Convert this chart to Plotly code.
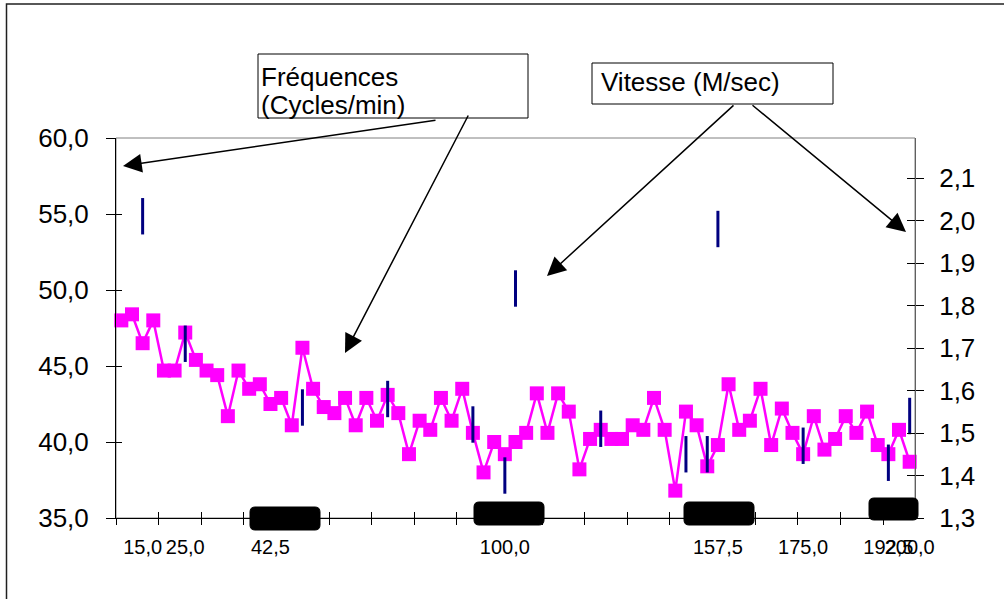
import plotly.graph_objects as go

# ---------------- data ----------------
n_categories = 75
x_label_pos = [2, 6, 14, 36, 56, 64, 72, 74]
x_labels = ["15,0", "25,0", "42,5", "100,0", "157,5", "175,0", "192,5", "200,0"]

freq = [48.0, 48.4, 46.5, 48.0, 44.7, 44.7, 47.2, 45.4, 44.7, 44.4,
        41.7, 44.7, 43.5, 43.8, 42.5, 42.9, 41.1, 46.2, 43.5, 42.3,
        41.9, 42.9, 41.1, 42.9, 41.4, 43.1, 41.9, 39.2, 41.4, 40.8,
        42.9, 41.4, 43.5, 40.6, 38.0, 40.0, 39.2, 40.0, 40.6, 43.2,
        40.6, 43.2, 42.0, 38.2, 40.2, 40.8, 40.2, 40.2, 41.1, 40.8,
        42.9, 40.8, 36.8, 42.0, 41.1, 38.4, 39.8, 43.8, 40.8, 41.4,
        43.5, 39.8, 42.2, 40.6, 39.2, 41.7, 39.5, 40.2, 41.7, 40.6,
        42.0, 39.8, 39.2, 40.8, 38.7]

speed_idx = [2, 6, 17, 25, 33, 36, 37, 45, 53, 55, 56, 64, 72, 74]
speed = [2.01, 1.71, 1.56, 1.58, 1.52, 1.40, 1.84, 1.51, 1.45, 1.45, 1.98, 1.47, 1.43, 1.54]

left_ticks = [35, 40, 45, 50, 55, 60]
right_ticks = [1.3, 1.4, 1.5, 1.6, 1.7, 1.8, 1.9, 2.0, 2.1]
tick_every = 4

FONT = "Liberation Sans, Arial, sans-serif"

# ---------------- layout geometry ----------------
W, H = 1004, 599
L, R, T, B = 116, 915, 138, 518


def px(p):
    return (p - L) / (R - L)


def py(p):
    return (B - p) / (B - T)


x_idx = list(range(n_categories))
xr = [-0.5, n_categories - 0.5]
yr_left = [left_ticks[0], left_ticks[-1]]
yr_right = [1.3, 1.3 + (B - T) / 425.0]
boundaries = [-0.5 + k * tick_every for k in range(n_categories // tick_every + 1)]

fig = go.Figure()
fig.add_trace(go.Scatter(
    x=x_idx, y=freq, mode="lines+markers",
    line=dict(color="#FF00FF", width=2.5),
    marker=dict(symbol="square", size=14, color="#FF00FF"),
    cliponaxis=False, showlegend=False, hoverinfo="skip"))
fig.add_trace(go.Scatter(
    x=speed_idx, y=speed, mode="markers", yaxis="y2",
    marker=dict(symbol="line-ns", size=26, color="#000080",
                line=dict(color="#000080", width=3)),
    showlegend=False, hoverinfo="skip"))
# invisible helper traces so that the overlay (tick) axes get drawn
fig.add_trace(go.Scatter(x=[0], y=[40], xaxis="x3", yaxis="y3", mode="markers",
                         marker=dict(opacity=0), showlegend=False, hoverinfo="skip"))
fig.add_trace(go.Scatter(x=[0], y=[1.5], xaxis="x4", yaxis="y4", mode="markers",
                         marker=dict(opacity=0), showlegend=False, hoverinfo="skip"))

axis_common = dict(showgrid=False, zeroline=False, fixedrange=True)

fig.update_layout(
    width=W, height=H, autosize=False,
    margin=dict(l=L, r=W - R, t=T, b=H - B, pad=0),
    paper_bgcolor="white", plot_bgcolor="white",
    separators=", ",
    font=dict(family=FONT, color="black"),
    xaxis=dict(range=xr, tickmode="array", tickvals=boundaries,
               ticks="outside", ticklen=6, tickcolor="black", tickwidth=1,
               showticklabels=False, showline=True, linecolor="black",
               linewidth=1, **axis_common),
    xaxis3=dict(range=xr, overlaying="x", anchor="y3", side="bottom",
                tickmode="array", tickvals=boundaries, ticks="inside",
                ticklen=6, tickcolor="black", showticklabels=False,
                showline=False, **axis_common),
    xaxis4=dict(range=xr, overlaying="x", anchor="y4", side="bottom",
                tickmode="array", tickvals=x_label_pos, ticktext=x_labels,
                ticks="", tickangle=0, showline=False,
                tickfont=dict(family=FONT, size=20, color="black"),
                ticklabelstandoff=15, **axis_common),
    yaxis=dict(range=yr_left, tickmode="array",
               tickvals=left_ticks, tickformat=".1f", ticks="outside",
               ticklen=9, tickcolor="black", showline=True,
               linecolor="black", linewidth=1,
               tickfont=dict(family=FONT, size=26, color="black"),
               ticklabelstandoff=12, **axis_common),
    yaxis3=dict(range=yr_left, overlaying="y",
                anchor="x3", side="left", tickmode="array",
                tickvals=left_ticks, ticks="inside", ticklen=6,
                tickcolor="black", showticklabels=False, showline=False,
                **axis_common),
    yaxis2=dict(range=yr_right, overlaying="y",
                anchor="x", side="right", tickmode="array",
                tickvals=right_ticks, tickformat=".1f", ticks="outside",
                ticklen=8, tickcolor="black", showline=True,
                linecolor="#606060", linewidth=1,
                tickfont=dict(family=FONT, size=26, color="black"),
                ticklabelstandoff=10, **axis_common),
    yaxis4=dict(range=yr_right, overlaying="y",
                anchor="x4", side="right", tickmode="array",
                tickvals=right_ticks, ticks="inside", ticklen=8,
                tickcolor="black", showticklabels=False, showline=False,
                **axis_common),
)

shapes = []
# plot area border (grey)
shapes.append(dict(type="rect", xref="paper", yref="paper", x0=0, y0=0, x1=1, y1=1,
                   line=dict(color="#808080", width=1), layer="below"))
# outer chart frame
shapes.append(dict(type="rect", xref="paper", yref="paper",
                   x0=px(6.5), y0=py(620), x1=px(1020), y1=py(4),
                   line=dict(color="#202020", width=1.5), layer="below"))


def rounded(x0, y0, x1, y1, r=5):
    rx, ry = r / (R - L), r / (B - T)
    a, b, c, d = px(x0), py(y1), px(x1), py(y0)
    return (f"M{a+rx},{d} L{c-rx},{d} Q{c},{d} {c},{d-ry} L{c},{b+ry} "
            f"Q{c},{b} {c-rx},{b} L{a+rx},{b} Q{a},{b} {a},{b+ry} "
            f"L{a},{d-ry} Q{a},{d} {a+rx},{d} Z")


for (x0, y0, x1, y1) in [(250, 507, 320, 530), (474, 502, 544, 525),
                         (684, 502, 754, 525), (869, 498, 918, 520)]:
    shapes.append(dict(type="path", xref="paper", yref="paper",
                       path=rounded(x0, y0, x1, y1), fillcolor="black",
                       line=dict(color="black", width=1), layer="above"))

# annotation boxes
shapes.append(dict(type="rect", xref="paper", yref="paper",
                   x0=px(258), x1=px(528), y0=py(118), y1=py(54),
                   fillcolor="white", line=dict(color="black", width=1)))
shapes.append(dict(type="rect", xref="paper", yref="paper",
                   x0=px(592), x1=px(833), y0=py(104), y1=py(63),
                   fillcolor="white", line=dict(color="black", width=1)))
fig.update_layout(shapes=shapes)

ann = []
for txt, x, y in [("Fréquences", 259, 77), ("(Cycles/min)", 259, 105),
                  ("Vitesse (M/sec)", 599, 82)]:
    ann.append(dict(text=txt, xref="paper", yref="paper", x=px(x), y=py(y),
                    xanchor="left", yanchor="middle", showarrow=False,
                    font=dict(family=FONT, size=26, color="black")))

for (tx, ty), (hx, hy) in [((437, 120), (123, 166)), ((469, 114), (345, 353)),
                           ((735, 104), (547, 276)), ((751, 104), (906, 232))]:
    ann.append(dict(text="", xref="paper", yref="paper", x=px(hx), y=py(hy),
                    ax=tx - hx, ay=ty - hy, axref="pixel", ayref="pixel",
                    showarrow=True, arrowhead=2, arrowsize=2.5, arrowwidth=1.5,
                    arrowcolor="black", standoff=0, startstandoff=0))
fig.update_layout(annotations=ann)

fig.write_html("out.html", config={"displayModeBar": False},
               post_script="document.body.style.margin='0px';"
                           "document.body.style.overflow='hidden';")
